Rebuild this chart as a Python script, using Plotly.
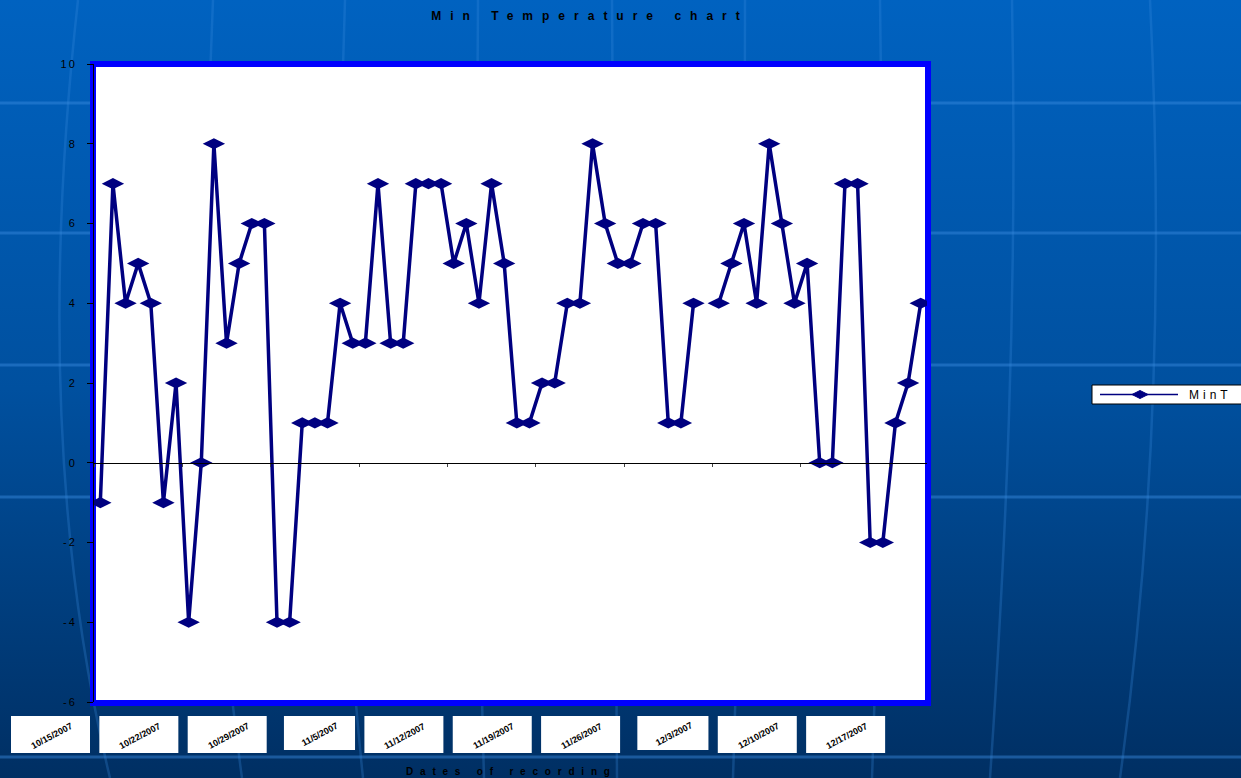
import base64
import pandas as pd
import plotly.graph_objects as go

# ---------------- data ----------------
start_date = "2007-10-15"
min_temps = [-1, 7, 4, 5, 4, -1, 2, -4, 0, 8,
             3, 5, 6, 6, -4, -4, 1, 1, 1, 4,
             3, 3, 7, 3, 3, 7, 7, 7, 5, 6,
             4, 7, 5, 1, 1, 2, 2, 4, 4, 8,
             6, 5, 5, 6, 6, 1, 1, 4, None, 4,
             5, 6, 4, 8, 6, 4, 5, 0, 0, 7,
             7, -2, -2, 1, 2, 4]
tick_labels = ["10/15/2007", "10/22/2007", "10/29/2007", "11/5/2007", "11/12/2007",
               "11/19/2007", "11/26/2007", "12/3/2007", "12/10/2007", "12/17/2007"]
y_tick_vals = [-6, -4, -2, 0, 2, 4, 6, 8, 10]
y_tick_text = ["-6", "-4", "-2", "0", "2", "4", "6", "8", "10"]
series_name = "MinT"
chart_title = "Min Temperature chart"
x_title = "Dates of recording"

# ---------------- layout geometry ----------------
W, H = 1241, 778
PL, PR, PT, PB = 94, 927, 64, 702


def px_x(p):
    return (p - PL) / (PR - PL)


def px_y(p):
    return (PB - p) / (PB - PT)


dates = pd.date_range(start_date, periods=len(min_temps), freq="D")
half_day = pd.Timedelta(hours=12)
x_range = [dates[0] - half_day, dates[-1] + half_day]
tick_pos = [pd.to_datetime(t, format="%m/%d/%Y") - half_day for t in tick_labels]
y_range = [y_tick_vals[0], y_tick_vals[-1]]
zero_pos = (0 - y_range[0]) / (y_range[1] - y_range[0])


def date_frac(d):
    return (d - x_range[0]) / (x_range[1] - x_range[0])


# ---------------- background (slide) ----------------
svg = f'''<svg xmlns="http://www.w3.org/2000/svg" width="{W}" height="{H}" viewBox="0 0 {W} {H}" preserveAspectRatio="none">
<defs><linearGradient id="g" x1="0" y1="0" x2="0" y2="1">
<stop offset="0" stop-color="#0062C0"/><stop offset="0.5" stop-color="#00509F"/><stop offset="1" stop-color="#002F63"/>
</linearGradient></defs>
<rect width="{W}" height="{H}" fill="url(#g)"/>
<g stroke="#3A8BE0" stroke-opacity="0.45" stroke-width="3" fill="none">
<path d="M0,103 H{W}"/><path d="M0,233 H{W}"/><path d="M0,365 H{W}"/><path d="M0,497 H{W}"/><path d="M0,757 H{W}"/>
</g>
<g stroke="#3A8BE0" stroke-opacity="0.28" stroke-width="2.5" fill="none">
<path d="M78,0 C50,250 48,520 110,778"/>
<path d="M213,0 C200,300 212,560 242,778"/>
<path d="M345,0 C335,300 340,560 363,778"/>
<path d="M478,0 C476,300 478,560 484,778"/>
<path d="M612,0 C612,300 614,560 617,778"/>
<path d="M745,0 C745,300 740,560 733,778"/>
<path d="M880,0 C885,300 880,560 872,778"/>
<path d="M1012,0 C1018,300 1005,560 990,778"/>
<path d="M1150,0 C1165,300 1150,560 1120,778"/>
</g>
</svg>'''
bg_src = "data:image/svg+xml;base64," + base64.b64encode(svg.encode()).decode()

FONT = "Liberation Sans, Arial, sans-serif"


def spaced(text, px):
    return f'<span style="letter-spacing:{px}px">{text}</span>'


fig = go.Figure()
fig.add_trace(go.Scatter(
    x=dates, y=min_temps, name=series_name, mode="lines+markers",
    line=dict(color="#000080", width=3.5),
    marker=dict(symbol="diamond-wide", size=16, color="#000080"),
    connectgaps=False, showlegend=False,
))

shapes = []
annotations = []

# white plot area with blue frame
shapes.append(dict(type="rect", xref="paper", yref="paper", layer="below",
                   x0=px_x(93), x1=px_x(928), y0=px_y(703), y1=px_y(64),
                   line=dict(color="#0000FF", width=6), fillcolor="white"))

# date label boxes under plot
for lab, tp in zip(tick_labels, tick_pos):
    tpx = PL + date_frac(tp) * (PR - PL)
    wbox = 7.9 * len(lab)
    hbox = 37 if len(lab) >= 10 else 34
    right = tpx - 4
    left = right - wbox
    top = 716
    bottom = top + hbox
    shapes.append(dict(type="rect", xref="paper", yref="paper",
                       x0=px_x(left), x1=px_x(right), y0=px_y(bottom), y1=px_y(top),
                       line=dict(width=0), fillcolor="white"))
    annotations.append(dict(text=f"<b>{lab}</b>", xref="paper", yref="paper",
                            x=px_x((left + right) / 2 + 1), y=px_y((top + bottom) / 2 + 1),
                            xanchor="center", yanchor="middle", textangle=-28,
                            showarrow=False, font=dict(family=FONT, size=9, color="black")))

# x axis title
annotations.append(dict(text="<b>" + spaced(x_title, 6.8) + "</b>", xref="paper", yref="paper",
                        x=px_x(511), y=px_y(771), xanchor="center", yanchor="middle",
                        showarrow=False, font=dict(family=FONT, size=10, color="black")))

# custom legend
ly = 394.5
shapes.append(dict(type="rect", xref="paper", yref="paper",
                   x0=px_x(1092), x1=px_x(1262), y0=px_y(404), y1=px_y(385),
                   line=dict(color="black", width=1), fillcolor="white"))
shapes.append(dict(type="line", xref="paper", yref="paper",
                   x0=px_x(1100), x1=px_x(1178), y0=px_y(ly), y1=px_y(ly),
                   line=dict(color="#000080", width=1.5)))
cx = 1140
shapes.append(dict(type="path", xref="paper", yref="paper",
                   path=f"M{px_x(cx-8)},{px_y(ly)} L{px_x(cx)},{px_y(ly-4)} L{px_x(cx+8)},{px_y(ly)} L{px_x(cx)},{px_y(ly+4)} Z",
                   line=dict(color="#000080", width=1), fillcolor="#000080"))
annotations.append(dict(text=spaced(series_name, 4), xref="paper", yref="paper",
                        x=px_x(1187), y=px_y(395), xanchor="left", yanchor="middle",
                        showarrow=False, font=dict(family=FONT, size=12, color="black")))

fig.update_layout(
    width=W, height=H,
    margin=dict(l=PL, r=W - PR, t=PT, b=H - PB, autoexpand=False),
    paper_bgcolor="#00509F", plot_bgcolor="white",
    title=dict(text="<b>" + spaced(chart_title, 9) + "</b>", x=590 / W, xref="container",
               xanchor="center", y=1 - 16 / H, yanchor="middle",
               font=dict(family=FONT, size=12, color="black")),
    xaxis=dict(type="date", range=x_range, tickvals=tick_pos, showticklabels=False,
               ticks="outside", ticklen=3, tickcolor="#444", showline=True,
               linecolor="black", linewidth=1, anchor="free", position=zero_pos,
               showgrid=False, zeroline=False),
    yaxis=dict(range=y_range, tickvals=y_tick_vals,
               ticktext=[spaced(t, 2) for t in y_tick_text],
               ticks="outside", ticklen=6, tickcolor="black", showline=True,
               linecolor="black", linewidth=1, showgrid=False, zeroline=False,
               ticklabelstandoff=8,
               tickfont=dict(family=FONT, size=11, color="black")),
    images=[dict(source=bg_src, xref="paper", yref="paper", x=px_x(0), y=px_y(0),
                 sizex=W / (PR - PL), sizey=H / (PB - PT), xanchor="left", yanchor="top",
                 sizing="stretch", layer="below")],
    shapes=shapes,
    annotations=annotations,
    showlegend=False,
)

fig.write_html("out.html")
